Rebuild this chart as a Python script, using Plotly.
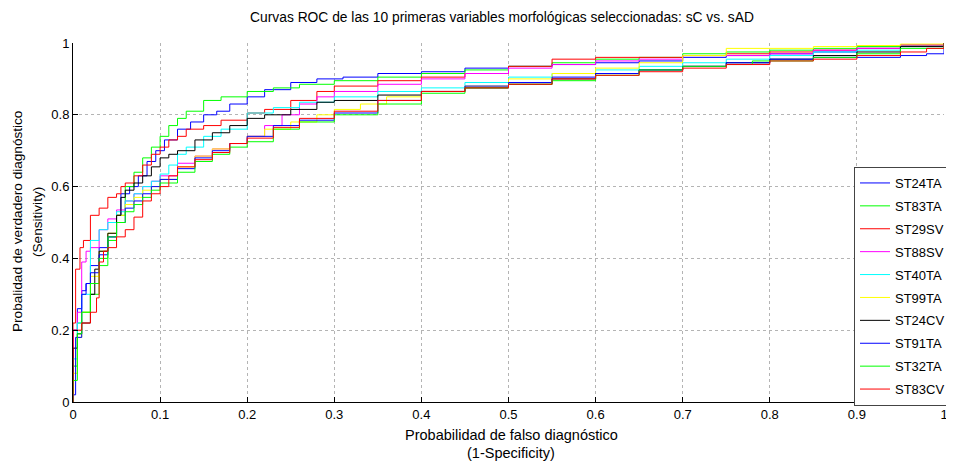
import plotly.graph_objects as go

# ---------------- data ----------------
names = ["ST24TA", "ST83TA", "ST29SV", "ST88SV", "ST40TA",
         "ST99TA", "ST24CV", "ST91TA", "ST32TA", "ST83CV"]
colors = ["#0000ff", "#00ff00", "#ff0000", "#ff00ff", "#00ffff",
          "#ffff00", "#000000", "#0000ff", "#00ff00", "#ff0000"]

fpr_st24ta = [0, 0, .005, .01, .015, .02, .03, .04, .05, .055, .065, .075, .085, .095, .105, .12, .135, .15, .165, .18, .2, .22, .25, .28, .31, .35, .4, .45, .5, .55, .6, .65, .7, .75, .8, .85, .9, .95, 1]
tpr_st24ta = [0, .2, .26, .31, .33, .38, .43, .46, .52, .58, .6, .63, .67, .7, .73, .76, .78, .8, .81, .83, .85, .87, .89, .9, .905, .915, .92, .93, .935, .94, .945, .95, .96, .965, .97, .975, .985, .995, 1]

fpr_st83ta = [0, 0, .005, .01, .02, .03, .04, .05, .06, .07, .08, .09, .1, .11, .12, .13, .15, .17, .2, .23, .26, .3, .35, .4, .45, .5, .55, .6, .65, .7, .75, .8, .85, .9, .95, 1]
tpr_st83ta = [0, .1, .22, .25, .3, .38, .45, .52, .6, .64, .68, .71, .74, .77, .79, .81, .84, .85, .865, .875, .885, .895, .905, .915, .925, .935, .945, .955, .96, .97, .975, .98, .985, .99, .995, 1]

fpr_st29sv = [0, 0, .003, .008, .012, .02, .03, .04, .05, .055, .06, .07, .08, .09, .1, .11, .12, .13, .15, .17, .2, .22, .25, .28, .3, .35, .4, .45, .5, .55, .6, .7, .75, .8, .85, .9, .95, 1]
tpr_st29sv = [0, .22, .37, .43, .45, .52, .54, .57, .58, .6, .61, .63, .66, .69, .71, .73, .74, .76, .77, .785, .805, .815, .84, .865, .88, .895, .905, .915, .935, .955, .96, .965, .97, .975, .98, .985, .995, 1]

fpr_st88sv = [0, 0, .005, .01, .015, .02, .03, .04, .05, .06, .07, .08, .09, .1, .12, .14, .16, .18, .2, .22, .24, .26, .28, .3, .35, .4, .45, .5, .55, .6, .65, .7, .8, .85, .9, .95, 1]
tpr_st88sv = [0, .2, .25, .39, .42, .43, .48, .51, .535, .56, .58, .6, .615, .63, .665, .685, .705, .72, .74, .77, .8, .83, .85, .865, .885, .9, .915, .93, .94, .95, .955, .965, .97, .98, .985, .995, 1]

fpr_st40ta = [0, 0, .005, .01, .02, .03, .04, .05, .06, .07, .08, .09, .1, .11, .12, .13, .15, .17, .2, .23, .26, .3, .35, .4, .45, .5, .55, .6, .65, .7, .75, .8, .85, .9, .95, 1]
tpr_st40ta = [0, .12, .22, .3, .45, .48, .5, .53, .56, .58, .6, .615, .635, .66, .69, .71, .74, .76, .805, .82, .835, .85, .865, .875, .89, .905, .915, .925, .935, .945, .955, .965, .975, .98, .99, 1]

fpr_st99ta = [0, 0, .005, .01, .02, .03, .04, .05, .06, .07, .08, .09, .1, .12, .14, .16, .18, .2, .22, .25, .28, .3, .33, .36, .4, .45, .5, .55, .6, .65, .7, .75, .85, .9, .95, 1]
tpr_st99ta = [0, .08, .18, .25, .35, .42, .47, .52, .55, .57, .59, .6, .62, .655, .685, .705, .72, .74, .76, .78, .8, .815, .83, .85, .865, .88, .9, .915, .93, .945, .965, .985, .99, .993, .997, 1]

fpr_st24cv = [0, 0, .005, .01, .02, .025, .03, .04, .05, .055, .06, .07, .08, .09, .1, .11, .12, .14, .16, .18, .2, .22, .25, .28, .3, .35, .4, .45, .5, .55, .6, .65, .7, .75, .8, .85, .9, .95, 1]
tpr_st24cv = [0, .15, .19, .22, .3, .37, .42, .47, .52, .57, .59, .61, .63, .655, .68, .69, .7, .73, .75, .77, .79, .8, .815, .835, .84, .855, .865, .875, .885, .9, .915, .925, .935, .945, .955, .965, .975, .99, 1]

fpr_st91ta = [0, 0, .003, .01, .015, .02, .03, .04, .05, .06, .07, .08, .09, .1, .12, .14, .16, .18, .2, .23, .26, .3, .35, .4, .45, .5, .55, .6, .65, .7, .75, .8, .85, .9, .95, .98, 1]
tpr_st91ta = [0, .02, .18, .3, .33, .36, .41, .46, .5, .54, .56, .58, .6, .62, .65, .68, .7, .72, .74, .77, .785, .805, .84, .865, .88, .89, .905, .915, .925, .935, .945, .955, .96, .96, .965, .97, 1]

fpr_st32ta = [0, 0, .005, .01, .02, .03, .04, .05, .06, .07, .08, .09, .1, .12, .14, .16, .18, .2, .23, .26, .3, .35, .4, .45, .5, .55, .6, .65, .7, .75, .78, .85, .9, .95, 1]
tpr_st32ta = [0, .06, .19, .25, .33, .4, .46, .5, .53, .55, .57, .59, .61, .64, .67, .69, .71, .725, .76, .78, .8, .83, .86, .875, .885, .895, .91, .925, .935, .94, .95, .96, .97, .985, 1]

fpr_st83cv = [0, 0, .01, .02, .027, .03, .035, .04, .05, .06, .07, .08, .09, .1, .11, .12, .14, .16, .18, .2, .23, .26, .3, .35, .4, .45, .5, .55, .6, .65, .7, .75, .8, .85, .9, .95, .98, 1]
tpr_st83cv = [0, .2, .22, .25, .29, .39, .42, .43, .46, .48, .515, .56, .58, .6, .63, .655, .675, .695, .72, .735, .765, .79, .81, .84, .865, .875, .885, .9, .91, .92, .93, .94, .95, .955, .965, .975, .985, 1]

fprs = [fpr_st24ta, fpr_st83ta, fpr_st29sv, fpr_st88sv, fpr_st40ta,
        fpr_st99ta, fpr_st24cv, fpr_st91ta, fpr_st32ta, fpr_st83cv]
tprs = [tpr_st24ta, tpr_st83ta, tpr_st29sv, tpr_st88sv, tpr_st40ta,
        tpr_st99ta, tpr_st24cv, tpr_st91ta, tpr_st32ta, tpr_st83cv]

x_ticks = [0, 0.1, 0.2, 0.3, 0.4, 0.5, 0.6, 0.7, 0.8, 0.9, 1]
x_tick_labels = ["0", "0.1", "0.2", "0.3", "0.4", "0.5", "0.6", "0.7", "0.8", "0.9", "1"]
y_ticks = [0, 0.2, 0.4, 0.6, 0.8, 1]
y_tick_labels = ["0", "0.2", "0.4", "0.6", "0.8", "1"]

title_text = "Curvas ROC de las 10 primeras variables morfológicas seleccionadas: sC vs. sAD"
xtitle1 = "Probabilidad de falso diagnóstico"
xtitle2 = "(1-Specificity)"
ytitle1 = "Probalidad de verdadero diagnóstico"
ytitle2 = "(Sensitivity)"

# ---------------- figure ----------------
FONT = "Liberation Sans, Arial, sans-serif"
OFF = 8  # the page body margin shifts the figure by 8 px

fig = go.Figure()
for n, c, x, y in zip(names, colors, fprs, tprs):
    fig.add_trace(go.Scatter(x=x, y=y, name=n, mode="lines", legendgroup=n,
                             line=dict(color=c, width=1, shape="hv")))

# positions in screenshot pixels
PL, PR, PT, PB = 73, 944, 43, 402
W, H = 954 - OFF, 465 - OFF
L = PL - OFF
T = PT - OFF
R = W - (PR - OFF)
B = H - (PB - OFF)
pw, ph = PR - PL, PB - PT

def px_x(p):
    return (p - PL) / pw

def px_y(p):
    return (PB - p) / ph

axis_common = dict(showgrid=True, gridcolor="#b4b4b4", griddash="dot", gridwidth=1,
                   showline=True, linecolor="black", linewidth=1,
                   ticks="inside", ticklen=5, tickcolor="black",
                   zeroline=False, tickfont=dict(family=FONT, size=13, color="black"))

fig.update_layout(
    width=W, height=H,
    margin=dict(l=L, r=R, t=T, b=B, autoexpand=False),
    paper_bgcolor="white", plot_bgcolor="white",
    font=dict(family=FONT, color="black"),
    title=dict(text=title_text, x=(502 - OFF) / W, xanchor="center",
               y=1 - (17 - OFF) / H, yanchor="middle",
               font=dict(family=FONT, size=13.8, color="black")),
    xaxis=dict(range=[0, 1], tickvals=x_ticks, ticktext=x_tick_labels, **axis_common),
    yaxis=dict(range=[0, 1], tickvals=y_ticks, ticktext=y_tick_labels, **axis_common),
    legend=dict(x=px_x(951), xanchor="right", y=px_y(167), yanchor="top",
                bgcolor="white", bordercolor="#444444", borderwidth=1,
                font=dict(family=FONT, size=13, color="black"),
                tracegroupgap=3, itemwidth=30),
    showlegend=True,
)

annots = [
    dict(text=xtitle1, x=px_x(511), y=px_y(435), xref="paper", yref="paper",
         xanchor="center", yanchor="middle", showarrow=False,
         font=dict(family=FONT, size=14.5, color="black")),
    dict(text=xtitle2, x=px_x(511), y=px_y(453), xref="paper", yref="paper",
         xanchor="center", yanchor="middle", showarrow=False,
         font=dict(family=FONT, size=14.5, color="black")),
    dict(text=ytitle1, x=px_x(17), y=px_y(222), xref="paper", yref="paper",
         xanchor="center", yanchor="middle", showarrow=False, textangle=-90,
         font=dict(family=FONT, size=13.6, color="black")),
    dict(text=ytitle2, x=px_x(37), y=px_y(222), xref="paper", yref="paper",
         xanchor="center", yanchor="middle", showarrow=False, textangle=-90,
         font=dict(family=FONT, size=13.6, color="black")),
]
fig.update_layout(annotations=annots)

fig.write_html("out.html")
